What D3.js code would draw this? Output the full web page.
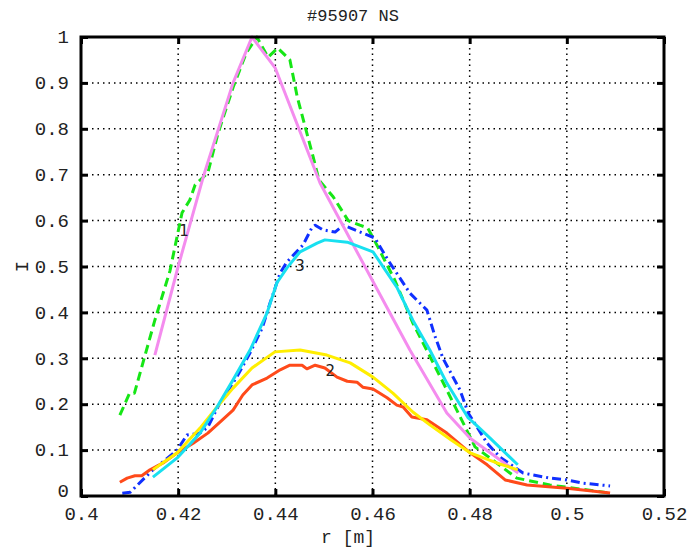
<!DOCTYPE html>
<html><head><meta charset="utf-8">
<script src="https://cdn.jsdelivr.net/npm/d3@7"></script>
<style>body{margin:0;background:#fff}svg{display:block}</style>
</head><body><svg id="c" width="692" height="547"></svg>
<script>
const title = "#95907 NS";
const xLabel = "r [m]";
const yLabel = "I";
const xTicks = [0.4, 0.42, 0.44, 0.46, 0.48, 0.5, 0.52];
const yTicks = [0, 0.1, 0.2, 0.3, 0.4, 0.5, 0.6, 0.7, 0.8, 0.9, 1];

const pinkR = [0.4152,0.42,0.4253,0.4313,0.4352,0.44,0.4492,0.4599,0.4677,0.4753,0.4801,0.490];
const pinkI = [0.307,0.50,0.70,0.90,1.0,0.932,0.682,0.471,0.318,0.181,0.126,0.050];

const greenR = [0.408,0.410,0.411,0.4152,0.4183,0.4208,0.4224,0.4235,0.4261,0.4282,0.4313,0.434,0.4362,0.4385,0.4405,0.443,0.4445,0.4478,0.449,0.4519,0.455,0.4574,0.459,0.4609,0.4646,0.4683,0.4725,0.4753,0.4797,0.4811,0.4897,0.4965,0.5089];
const greenI = [0.176,0.224,0.224,0.383,0.49,0.617,0.645,0.678,0.704,0.79,0.89,0.965,1.0,0.956,0.976,0.95,0.87,0.738,0.688,0.652,0.60,0.59,0.584,0.547,0.47,0.377,0.29,0.231,0.137,0.107,0.039,0.024,0.0065];

const blueR = [0.4085,0.4101,0.4148,0.4198,0.4218,0.4245,0.4261,0.4286,0.4321,0.4348,0.4373,0.4389,0.441,0.4424,0.4457,0.4475,0.4482,0.4498,0.4523,0.454,0.4589,0.4605,0.4632,0.4677,0.4712,0.4728,0.4745,0.478,0.4797,0.4836,0.4862,0.491,0.4965,0.5,0.5033,0.5089];
const blueI = [0.006,0.008,0.057,0.10,0.133,0.137,0.15,0.203,0.26,0.312,0.366,0.42,0.486,0.51,0.547,0.584,0.59,0.58,0.575,0.59,0.569,0.562,0.514,0.442,0.405,0.35,0.30,0.231,0.181,0.115,0.085,0.05,0.039,0.035,0.028,0.022];

const cyanR = [0.4148,0.4198,0.4245,0.428,0.4313,0.4348,0.4383,0.4403,0.4424,0.4451,0.4486,0.4502,0.4548,0.4601,0.465,0.4673,0.4683,0.4718,0.4753,0.4797,0.4807,0.4842,0.4899];
const cyanI = [0.041,0.083,0.137,0.194,0.253,0.318,0.399,0.464,0.497,0.532,0.551,0.558,0.553,0.532,0.455,0.405,0.383,0.318,0.246,0.17,0.161,0.126,0.068];

const yellowR = [0.4148,0.4198,0.4245,0.428,0.4313,0.4352,0.4399,0.4451,0.4506,0.4554,0.4601,0.4642,0.4683,0.4718,0.4762,0.4801,0.4856,0.4899];
const yellowI = [0.057,0.094,0.148,0.194,0.235,0.279,0.314,0.318,0.307,0.29,0.259,0.224,0.183,0.155,0.122,0.094,0.072,0.057];

const orangeR = [0.408,0.4095,0.4111,0.4125,0.4142,0.4169,0.4198,0.4231,0.4261,0.4286,0.4313,0.4333,0.4352,0.4383,0.441,0.443,0.4455,0.4465,0.4482,0.4502,0.4527,0.4548,0.4568,0.458,0.4601,0.463,0.465,0.4663,0.4681,0.4712,0.4753,0.4801,0.4836,0.4873,0.4918,0.5,0.5089];
const orangeI = [0.030,0.039,0.044,0.044,0.057,0.072,0.094,0.115,0.137,0.161,0.187,0.22,0.242,0.257,0.275,0.285,0.285,0.277,0.285,0.279,0.259,0.25,0.248,0.237,0.233,0.214,0.198,0.194,0.172,0.166,0.137,0.094,0.068,0.035,0.024,0.017,0.0065];

const curveLabels = ["1", "2", "3"];
const labelR = [0.4212, 0.4513, 0.4451];
const labelI = [0.566, 0.261, 0.49];

const svg = d3.select("#c");
const m = {l: 81, r: 664, t: 37, b: 496};
const x = d3.scaleLinear().domain([0.4, 0.52]).range([m.l, m.r]);
const y = d3.scaleLinear().domain([0, 1]).range([m.b, m.t]);
const mono = "'Liberation Mono', 'DejaVu Sans Mono', monospace";

// grid
const grid = svg.append("g").attr("stroke", "#000").attr("stroke-width", 1.5).attr("stroke-dasharray", "1.5,4");
grid.selectAll("line.v").data(xTicks.slice(1, -1)).join("line")
  .attr("x1", d => x(d)).attr("x2", d => x(d)).attr("y1", m.t).attr("y2", m.b);
grid.selectAll("line.h").data(yTicks.slice(1, -1)).join("line")
  .attr("y1", d => y(d)).attr("y2", d => y(d)).attr("x1", m.l).attr("x2", m.r);

const lineGen = (R, I) => d3.line().x((d, i) => x(R[i])).y((d, i) => y(I[i]))(R);

const series = [
  {R: greenR, I: greenI, c: "#16e616", dash: "9,5"},
  {R: blueR, I: blueI, c: "#1030ff", dash: "9,4,2,4"},
  {R: pinkR, I: pinkI, c: "#f48cee", dash: null},
  {R: orangeR, I: orangeI, c: "#ff4a1a", dash: null},
  {R: yellowR, I: yellowI, c: "#ffee00", dash: null},
  {R: cyanR, I: cyanI, c: "#18e0f0", dash: null}
];
const plot = svg.append("g");
series.forEach(s => {
  plot.append("path").attr("d", lineGen(s.R, s.I)).attr("fill", "none")
    .attr("stroke", s.c).attr("stroke-width", 3).attr("stroke-linejoin", "round")
    .attr("stroke-dasharray", s.dash);
});

// curve labels
svg.selectAll("text.cl").data(curveLabels).join("text")
  .attr("x", (d, i) => x(labelR[i])).attr("y", (d, i) => y(labelI[i]))
  .attr("font-family", "'DejaVu Sans', sans-serif").attr("font-size", 15).attr("fill", "#222")
  .attr("text-anchor", "middle").text(d => d);

// axis box
svg.append("rect").attr("x", m.l).attr("y", m.t).attr("width", m.r - m.l).attr("height", m.b - m.t)
  .attr("fill", "none").attr("stroke", "#000").attr("stroke-width", 3);

// axes with inner ticks
const xAxis = d3.axisBottom(x).tickValues(xTicks).tickSizeInner(-7).tickSizeOuter(0).tickPadding(11).tickFormat(d => String(+d.toFixed(2)));
const gx = svg.append("g").attr("transform", `translate(0,${m.b})`).call(xAxis);
const gxTop = svg.append("g").attr("transform", `translate(0,${m.t})`).call(d3.axisTop(x).tickValues(xTicks).tickSizeInner(-7).tickSizeOuter(0).tickFormat(""));
const yAxis = d3.axisLeft(y).tickValues(yTicks).tickSizeInner(-7).tickSizeOuter(0).tickPadding(12).tickFormat(d => String(+d.toFixed(1)));
const gy = svg.append("g").attr("transform", `translate(${m.l},0)`).call(yAxis);
const gyR = svg.append("g").attr("transform", `translate(${m.r},0)`).call(d3.axisRight(y).tickValues(yTicks).tickSizeInner(-7).tickSizeOuter(0).tickFormat(""));
[gx, gxTop, gy, gyR].forEach(g => {
  g.select(".domain").remove();
  g.selectAll(".tick line").attr("stroke", "#000").attr("stroke-width", 3);
  g.selectAll("text").attr("font-family", mono).attr("font-size", 19).attr("fill", "#222");
});
gx.selectAll("text").attr("dy", "0.7em");
gy.selectAll("text").attr("dy", "0.3em");
gy.selectAll(".tick").filter(d => d === 0).select("text").attr("dy", "0.05em");

// title and axis labels
svg.append("text").attr("x", 353).attr("y", 21).attr("text-anchor", "middle")
  .attr("font-family", mono).attr("font-size", 17).attr("fill", "#222").text(title);
svg.append("text").attr("x", 348).attr("y", 543).attr("text-anchor", "middle")
  .attr("font-family", mono).attr("font-size", 18).attr("fill", "#222").text(xLabel);
svg.append("text").attr("transform", `translate(28,${(m.t + m.b) / 2}) rotate(-90)`).attr("text-anchor", "middle")
  .attr("font-family", mono).attr("font-size", 19).attr("fill", "#222").text(yLabel);
</script></body></html>
